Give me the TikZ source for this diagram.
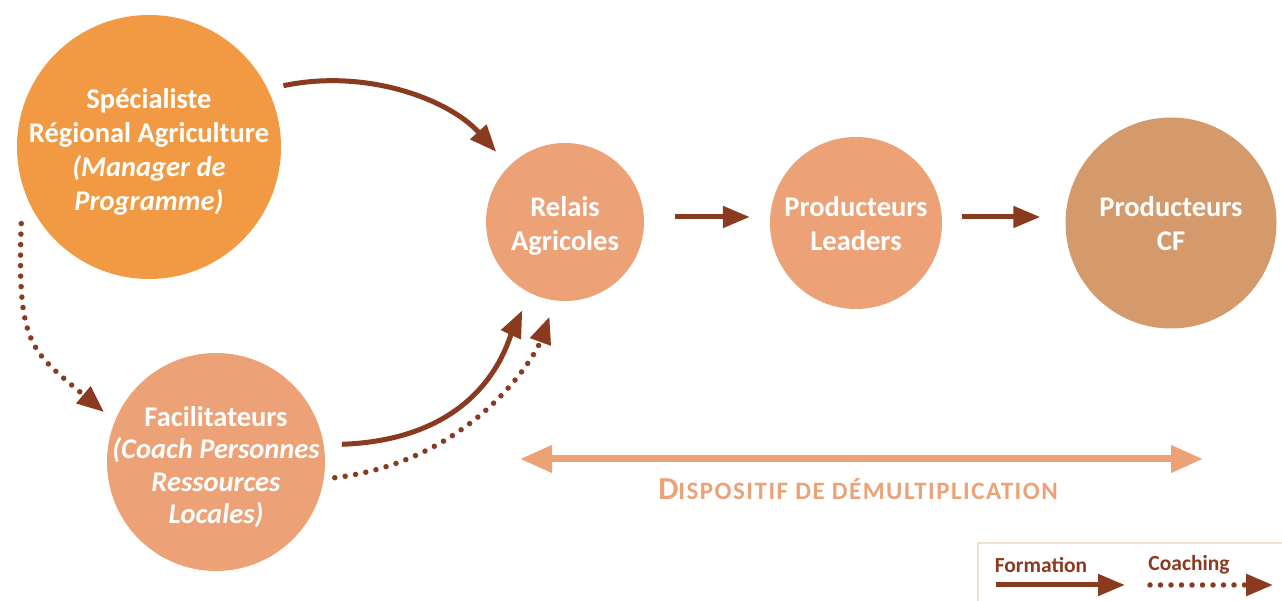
\documentclass[tikz,border=0pt]{standalone}
\usepackage{fontspec}
\setmainfont{Carlito}
\usetikzlibrary{arrows.meta}
\definecolor{orangeA}{HTML}{F29A43}
\definecolor{peach}{HTML}{ECA276}
\definecolor{tanA}{HTML}{D49A6C}
\definecolor{brownA}{HTML}{8A3B1F}
\definecolor{beigeA}{HTML}{EEE3C9}
\begin{document}
\begin{tikzpicture}[x=1pt,y=1pt,
  bubble/.style={circle, inner sep=0pt, minimum size=#1},
  caption/.style={text=white, align=center, inner sep=0pt,
    font=\bfseries\fontsize{28.5}{34}\selectfont},
  formation/.style={draw=brownA, line width=5pt,
    -{Triangle[length=27pt,width=21pt]}},
  coaching/.style={draw=brownA, line width=5.5pt, line cap=round,
    dash pattern=on 0pt off 10.5pt,
    -{Triangle[length=27pt,width=21pt]}},
  legendtext/.style={text=brownA, font=\bfseries\fontsize{21.5}{24}\selectfont, inner sep=0pt},
]
\useasboundingbox (0,0) rectangle (1282,601);

% actors: the disc keeps its size, the caption is a centred label
\node[bubble=264pt, fill=orangeA,
  label={[caption, yshift=-5pt]center:{Spécialiste\\Régional Agriculture\\\textit{(Manager de}\\\textit{Programme)}}}]
  (spec) at (149,454) {};
\node[bubble=218pt, fill=peach,
  label={[caption, yshift=-5pt, font=\bfseries\fontsize{28.5}{32.5}\selectfont]center:{Facilitateurs\\\textit{(Coach Personnes}\\\textit{Ressources}\\\textit{Locales)}}}]
  (facil) at (216,139) {};
\node[bubble=158pt, fill=peach,
  label={[caption, yshift=-4pt]center:{Relais\\Agricoles}}]
  (relais) at (565,379) {};
\node[bubble=172pt, fill=peach,
  label={[caption, yshift=-1pt]center:{Producteurs\\Leaders}}]
  (leaders) at (856,378) {};
\node[bubble=211pt, fill=tanA,
  label={[caption, yshift=-1pt]center:{Producteurs\\CF}}]
  (cf) at (1171,378) {};

% training flows
\draw[formation, shorten <=16pt, shorten >=19pt]
  (spec.26) .. controls +(12:100) and +(132:90) .. (relais.135);
\draw[formation, shorten <=18pt, shorten >=19pt]
  (facil.9) .. controls +(2:160) and +(245:55) .. (relais.244);
\draw[formation, shorten <=31pt, shorten >=20pt]
  ([yshift=5pt]relais.east) -- ([yshift=6pt]leaders.west);
\draw[formation, shorten <=20pt, shorten >=25pt]
  ([yshift=6pt]leaders.east) -- ([yshift=6pt]cf.west);

% coaching flows
\draw[coaching, shorten <=38pt, shorten >=14pt]
  (spec.197) .. controls +(268:160) and +(140:110) .. (facil.158);
\draw[coaching, shorten <=11pt, shorten >=17pt]
  (facil.-9) .. controls +(7:150) and +(250:60) .. (relais.263);

% cascade span
\coordinate (spanL) at (520,142);
\coordinate (spanR) at (1203,142);
\draw[draw=peach, line width=7pt,
  {Triangle[length=32pt,width=26pt]}-{Triangle[length=32pt,width=26pt]}]
  (spanL) -- (spanR);
\node[text=peach, font=\bfseries\addfontfeature{LetterSpace=6}, inner sep=0pt] (dispo) at (858,112)
  {{\fontsize{32}{34}\selectfont D}{\fontsize{25}{34}\selectfont ISPOSITIF DE DÉMULTIPLICATION}};

% legend
\draw[draw=beigeA, line width=2pt] (978,-10) |- (1300,58);
\node[legendtext] (lgF) at (1041,36) {Formation};
\node[legendtext] (lgC) at (1189,36) {Coaching};
\coordinate (lgFa) at (996,16);
\coordinate (lgFb) at (1125,16);
\coordinate (lgCa) at (1150,16);
\coordinate (lgCb) at (1273,16);
\draw[formation] (lgFa) -- (lgFb);
\draw[coaching] (lgCa) -- (lgCb);
\end{tikzpicture}
\end{document}
